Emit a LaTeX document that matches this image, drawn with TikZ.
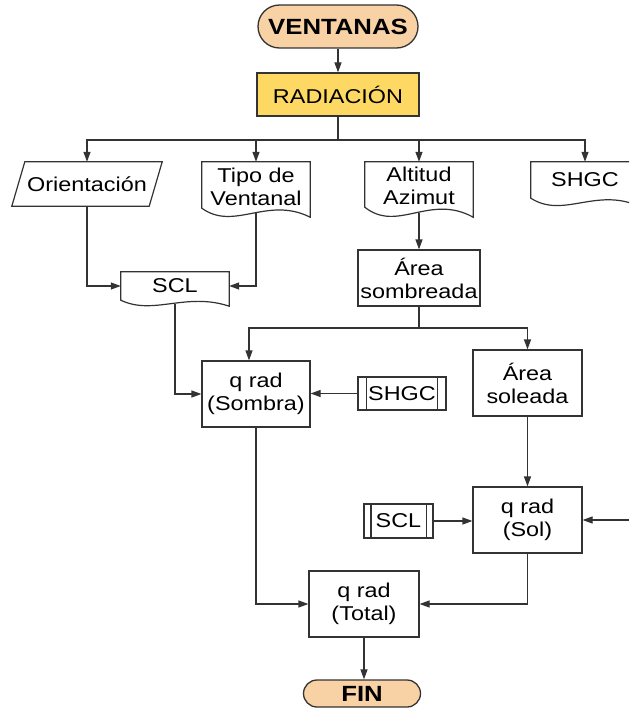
\documentclass[tikz,border=0pt]{standalone}
\usepackage{fontspec}
\setmainfont[FakeStretch=1.17]{Liberation Sans}
\usetikzlibrary{arrows.meta,calc}
\definecolor{linec}{HTML}{333333}
\definecolor{peach}{HTML}{F8D2A5}
\definecolor{gold}{HTML}{FDD862}
\tikzset{
  txt/.style={font=\fontsize{20}{23}\selectfont, align=center, inner sep=0pt},
  outl/.style={draw=linec, line width=1.2pt, fill=white},
  proc/.style={txt, rectangle, draw=linec, line width=1.2pt, fill=white},
  term/.style={rectangle, draw=linec, line width=1.3pt, fill=peach, font=\fontsize{22}{24}\selectfont\bfseries, inner sep=0pt},
  conn/.style={draw=linec, line width=1.2pt},
  arrow/.style={conn, -{Triangle[length=10pt,width=7pt]}},
}
\newcommand\docoutline[2]{%
  \draw[outl] (#1.north west) -- (#1.north east) -- ($(#1.south east)+(0,#2)$)
    .. controls ($(#1.south west)!0.6!(#1.south east)+(0,-1.4*#2)$)
    and ($(#1.south west)!0.3!(#1.south east)+(0,2.6*#2)$) .. (#1.south west) -- cycle;}
\newcommand\ppoutline[2]{%
  \draw[conn] ([xshift=#2]#1.north west) -- ([xshift=#2]#1.south west);
  \draw[conn] ([xshift=-#2]#1.north east) -- ([xshift=-#2]#1.south east);}
\begin{document}
\begin{tikzpicture}[x=1pt,y=-1pt]
\useasboundingbox (0,0) rectangle (629,709);
\clip (0,0) rectangle (629,709);
\fill[white] (0,0) rectangle (629,709);

% terminals and process
\node[term, minimum width=160pt, minimum height=43pt, rounded corners=21.5pt] (ven) at (338,26.5) {VENTANAS};
\node[proc, fill=gold, minimum width=162pt, minimum height=43pt] (rad) at (338,94.5) {RADIACIÓN};

% parallelogram
\node[txt, minimum width=137pt, minimum height=44pt] (ori) at (87,184) {};
\draw[outl] ([xshift=-6.5pt]ori.south west) -- ([xshift=6.5pt]ori.north west) -- ([xshift=6.5pt]ori.north east) -- ([xshift=-6.5pt]ori.south east) -- cycle;
\node[txt] at (ori.center) {Orientación};

% documents
\node[txt, minimum width=108pt, minimum height=46pt] (tipo) at (256,185) {};
\docoutline{tipo}{9}
\node[txt] at ([yshift=-1.5pt]tipo.center) {Tipo de\\Ventanal};

\node[txt, minimum width=108pt, minimum height=45pt] (alt) at (419,184.5) {};
\docoutline{alt}{10}
\node[txt] at ([yshift=-1.5pt]alt.center) {Altitud\\Azimut};

\node[txt, minimum width=108pt, minimum height=36pt] (shgca) at (585,180) {};
\docoutline{shgca}{8}
\node[txt] at (shgca.center) {SHGC};

\node[txt, minimum width=108pt, minimum height=28pt] (scla) at (175,286) {};
\docoutline{scla}{6}
\node[txt] at (scla.center) {SCL};

% processes
\node[proc, minimum width=122pt, minimum height=56pt] (asom) at (419,278) {Área\\sombreada};
\node[proc, minimum width=108pt, minimum height=66pt] (qsom) at (256,394) {q rad\\(Sombra)};
\node[proc, minimum width=88pt, minimum height=33pt] (shgcb) at (402,393.5) {SHGC};
\ppoutline{shgcb}{9pt}
\node[proc, minimum width=109pt, minimum height=66pt] (asol) at (527.5,383) {Área\\soleada};
\node[proc, minimum width=109pt, minimum height=66pt] (qsol) at (527.5,520) {q rad\\(Sol)};
\node[proc, minimum width=69pt, minimum height=34pt] (sclb) at (398.5,521) {SCL};
\ppoutline{sclb}{7.5pt}
\node[proc, minimum width=110pt, minimum height=66pt] (tot) at (364,604) {q rad\\(Total)};
\node[term, minimum width=117pt, minimum height=27pt, rounded corners=13.5pt] (fin) at (362,693.5) {FIN};

% connectors
\coordinate (b1) at (338,140);
\coordinate (b2) at (419,328);
\coordinate (rin) at (629,520);
\draw[arrow] (ven.south) -- (rad.north);
\draw[conn] (rad.south) -- (b1);
\draw[arrow] (b1) -| (ori.north);
\draw[arrow] (b1) -| (tipo.north);
\draw[arrow] (b1) -| (alt.north);
\draw[arrow] (b1) -| (shgca.north);
\draw[arrow] (ori.south) |- (scla.west);
\draw[arrow] ([yshift=-5pt]tipo.south) |- (scla.east);
\draw[arrow] ([yshift=-5.5pt]alt.south) -- (asom.north);
\draw[conn] (asom.south) -- (b2);
\draw[arrow] (b2) -| ([xshift=-7pt]qsom.north);
\draw[arrow] (b2) -| (asol.north);
\draw[arrow] ([yshift=-3.5pt]scla.south) |- (qsom.west);
\draw[arrow] (shgcb.west) -- (shgcb.west -| qsom.east);
\draw[arrow] (asol.south) -- (qsol.north);
\draw[arrow] (sclb.east) -- (sclb.east -| qsol.west);
\draw[arrow] (rin) -- (qsol.east);
\draw[arrow] (qsom.south) |- (tot.west);
\draw[arrow] (qsol.south) |- (tot.east);
\draw[arrow] (tot.south) -- (tot.south |- fin.north);
\end{tikzpicture}
\end{document}
